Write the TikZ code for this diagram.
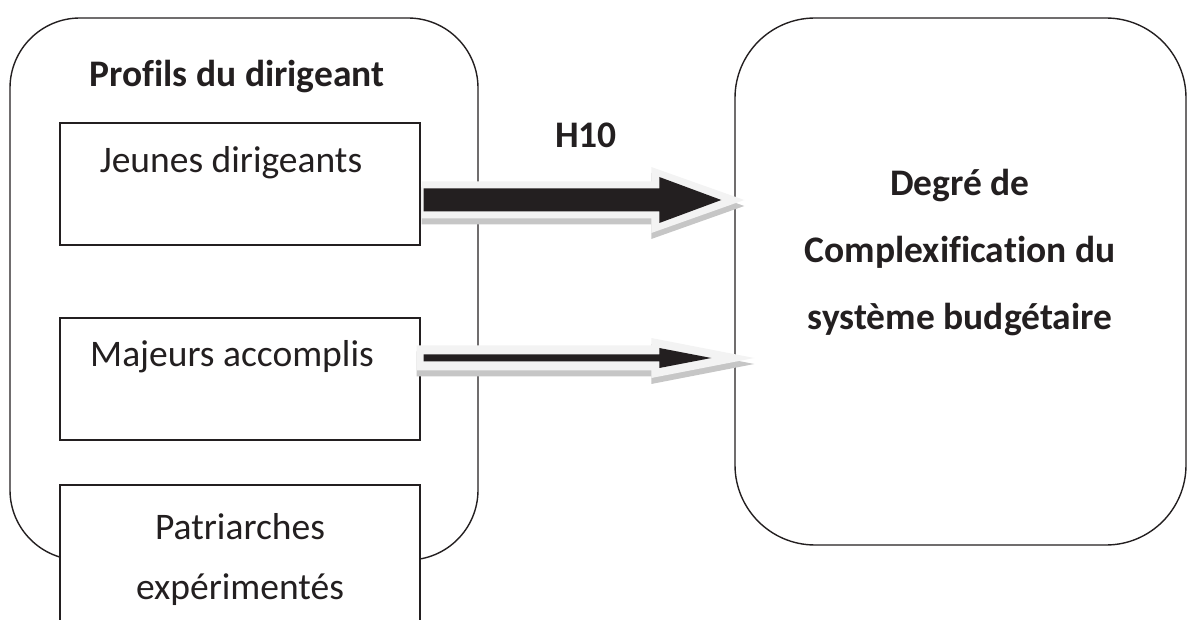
\documentclass[tikz,border=0pt]{standalone}
\usepackage{fontspec}
\setmainfont{Carlito}[Ligatures=NoCommon]
\usetikzlibrary{arrows.meta,positioning,calc}
\definecolor{DiagInk}{HTML}{231F20}
\definecolor{ArrowGlow}{HTML}{F3F3F3}
\definecolor{ArrowShade}{HTML}{C6C6C6}
% flat block arrow: start, tip, half shaft, half head, head length
\newcommand{\fatarrow}[6][]{%
  \fill[#1] ($(#2)+(0,#4)$) -- ($(#3)+(-#6,#4)$) -- ($(#3)+(-#6,#5)$) -- (#3)
    -- ($(#3)+(-#6,-#5)$) -- ($(#3)+(-#6,-#4)$) -- ($(#2)+(0,-#4)$) -- cycle;}

\begin{document}
\begin{tikzpicture}[x=1pt,y=1pt,>=Latex]
\tikzset{
  outer/.style={draw=DiagInk,line width=1.4pt,rounded corners=70pt},
  inner/.style={draw=DiagInk,line width=1.4pt,fill=white,minimum width=360pt},
  heading/.style={font=\bfseries\fontsize{37.5}{44}\selectfont,text=DiagInk,align=center},
  entry/.style={font=\fontsize{37.5}{44}\selectfont,text=DiagInk,align=center}
}
\useasboundingbox (0,0) rectangle (1189,619);
\clip (0,0) rectangle (1189,619);

\node[outer,minimum width=468pt,minimum height=542pt] (profils) at (244,330) {};
\node[outer,rounded corners=80pt,minimum width=451pt,minimum height=527pt] (degre) at (960.5,337.5) {};

\node[heading] (titre) at (237,542) {Profils du dirigeant};
\node[heading] (h10) at (586,484) {H10};
\node[heading,font=\bfseries\fontsize{37.5}{67}\selectfont] (degret) at (960,366) {Degré de\\Complexification du\\système budgétaire};

\node[inner,minimum height=122pt] (jeunes) at (240,435) {};
\node[entry] (jeunest) at (231,456) {Jeunes dirigeants};
\node[inner,minimum height=122pt] (majeurs) at (240,240) {};
\node[entry] (majeurst) at (232,262) {Majeurs accomplis};
\node[inner,minimum height=160pt] (patri) at (240,54) {};
\node[entry,font=\fontsize{37.5}{60}\selectfont] (patrit) at (240,59) {Patriarches\\expérimentés};

% H10 arrows
\coordinate (a1s) at ([shift={(3,-16)}]jeunes.east);
\coordinate (a1t) at ([shift={(-13,81.5)}]degre.west);
\coordinate (a1g) at ([shift={(1,-16)}]jeunes.east);
\coordinate (a1h) at ([xshift=23]a1t);
\fatarrow[ArrowShade,transform canvas={yshift=-6pt}]{a1g}{a1h}{18.5}{33}{93}
\fatarrow[ArrowGlow]{a1g}{a1h}{18.5}{33}{93}
\fatarrow[DiagInk]{a1s}{a1t}{11.5}{23}{62}

\coordinate (a2s) at ([shift={(3,21)}]majeurs.east);
\coordinate (a2t) at ([shift={(-23,-76.5)}]degre.west);
\coordinate (a2g) at ([shift={(-4,21)}]majeurs.east);
\coordinate (a2h) at ([xshift=43]a2t);
\fatarrow[ArrowShade,transform canvas={yshift=-6pt}]{a2g}{a2h}{12.5}{20}{103}
\fatarrow[ArrowGlow]{a2g}{a2h}{12.5}{20}{103}
\fatarrow[DiagInk]{a2s}{a2t}{3.5}{10}{52}
\end{tikzpicture}
\end{document}
